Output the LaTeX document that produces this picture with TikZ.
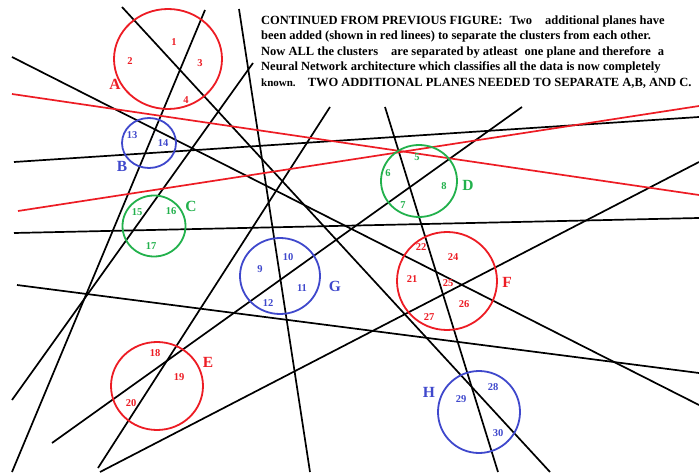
\documentclass[tikz,border=0pt]{standalone}
\usepackage{fontspec}
\setmainfont{Liberation Serif}
\definecolor{pred}{RGB}{237,28,36}
\definecolor{pblue}{RGB}{63,72,204}
\definecolor{pgreen}{RGB}{34,177,76}
\begin{document}
\begin{tikzpicture}[x=1pt,y=-1pt,
  bl/.style={draw=black,line width=1.7pt},
  rl/.style={draw=pred,line width=1.7pt},
  ring/.style={line width=1.8pt},
  num/.style={inner sep=0pt,font=\bfseries\fontsize{10.5}{12}\selectfont},
  big/.style={inner sep=0pt,font=\bfseries\fontsize{15.5}{18}\selectfont},
  txt/.style={inner sep=0pt,anchor=base west,font=\bfseries\fontsize{12.5}{15}\selectfont}]
\useasboundingbox (0,0) rectangle (699,473);
\fill[white] (0,0) rectangle (699,473);
% black planes
\draw[bl] (122,7) -- (550,472);
\draw[bl] (12,57) -- (699,405);
\draw[bl] (205,10) -- (12,472);
\draw[bl] (253,63) -- (12,400);
\draw[bl] (239,9) -- (310,472);
\draw[bl] (330,107) -- (98,468);
\draw[bl] (52,443) -- (522,107);
\draw[bl] (100,472) -- (699,162);
\draw[bl] (14,162) -- (699,117);
\draw[bl] (14,233) -- (699,218);
\draw[bl] (17,285) -- (699,373);
\draw[bl] (385,107) -- (498,472);
% red planes
\draw[rl] (12,94) -- (699,195);
\draw[rl] (18,211) -- (699,106);
% clusters
\draw[ring,pred] (168,59) ellipse [x radius=54,y radius=50];
\draw[ring,pblue] (149,143) ellipse [x radius=27,y radius=25];
\draw[ring,pgreen] (154,226) ellipse [x radius=31.5,y radius=30.5];
\draw[ring,pblue] (280,276) ellipse [x radius=40,y radius=38];
\draw[ring,pred] (157,386) ellipse [x radius=46,y radius=44];
\draw[ring,pgreen] (419,181) ellipse [x radius=38,y radius=36];
\draw[ring,pred] (447,281) ellipse [x radius=50,y radius=49];
\draw[ring,pblue] (479,412) ellipse [x radius=41,y radius=41];
% labels A
\node[num,pred] (n1) at (174,42) {1};
\node[num,pred] (n2) at (130,61) {2};
\node[num,pred] (n3) at (200,63) {3};
\node[num,pred] (n4) at (186,100) {4};
\node[big,pred] (lA) at (115,84) {A};
% B
\node[num,pblue] (n13) at (132,135) {13};
\node[num,pblue] (n14) at (163,143) {14};
\node[big,pblue] (lB) at (122,166) {B};
% C
\node[num,pgreen] (n15) at (137,212) {15};
\node[num,pgreen] (n16) at (171,211) {16};
\node[num,pgreen] (n17) at (151,246) {17};
\node[big,pgreen] (lC) at (191,206) {C};
% G
\node[num,pblue] (n9) at (260,269) {9};
\node[num,pblue] (n10) at (288,257) {10};
\node[num,pblue] (n11) at (302,288) {11};
\node[num,pblue] (n12) at (268,303) {12};
\node[big,pblue] (lG) at (335,286) {G};
% E
\node[num,pred] (n18) at (155,353) {18};
\node[num,pred] (n19) at (179,377) {19};
\node[num,pred] (n20) at (131,403) {20};
\node[big,pred] (lE) at (208,362) {E};
% D
\node[num,pgreen] (n5) at (417,157) {5};
\node[num,pgreen] (n6) at (388,173) {6};
\node[num,pgreen] (n8) at (444,186) {8};
\node[num,pgreen] (n7) at (403,205) {7};
\node[big,pgreen] (lD) at (468,185) {D};
% F
\node[num,pred] (n22) at (421,247) {22};
\node[num,pred] (n24) at (453,257) {24};
\node[num,pred] (n21) at (412,279) {21};
\node[num,pred] (n25) at (448,283) {25};
\node[num,pred] (n26) at (464,304) {26};
\node[num,pred] (n27) at (429,317) {27};
\node[big,pred] (lF) at (507,282) {F};
% H
\node[big,pblue] (lH) at (429,392) {H};
\node[num,pblue] (n29) at (461,399) {29};
\node[num,pblue] (n28) at (493,387) {28};
\node[num,pblue] (n30) at (498,433) {30};
% text
\node[txt] (t1) at (261,24.7) {CONTINUED FROM PREVIOUS FIGURE:\hspace{7pt}Two\hspace{13pt}additional planes have};
\node[txt] (t2) at (261,39.9) {been added (shown in red linees) to separate the clusters from each other.};
\node[txt] (t3) at (261,55.1) {Now ALL the clusters\hspace{13pt}are separated by atleast\hspace{7pt}one plane and therefore\hspace{7pt}a};
\node[txt] (t4) at (261,70.4) {Neural Network architecture which classifies all the data is now completely};
\node[txt] (t5) at (261,86.5) {{\fontsize{11}{13}\selectfont known.}\hspace{12pt}TWO ADDITIONAL PLANES NEEDED TO SEPARATE A,B, AND C.};
\end{tikzpicture}
\end{document}
